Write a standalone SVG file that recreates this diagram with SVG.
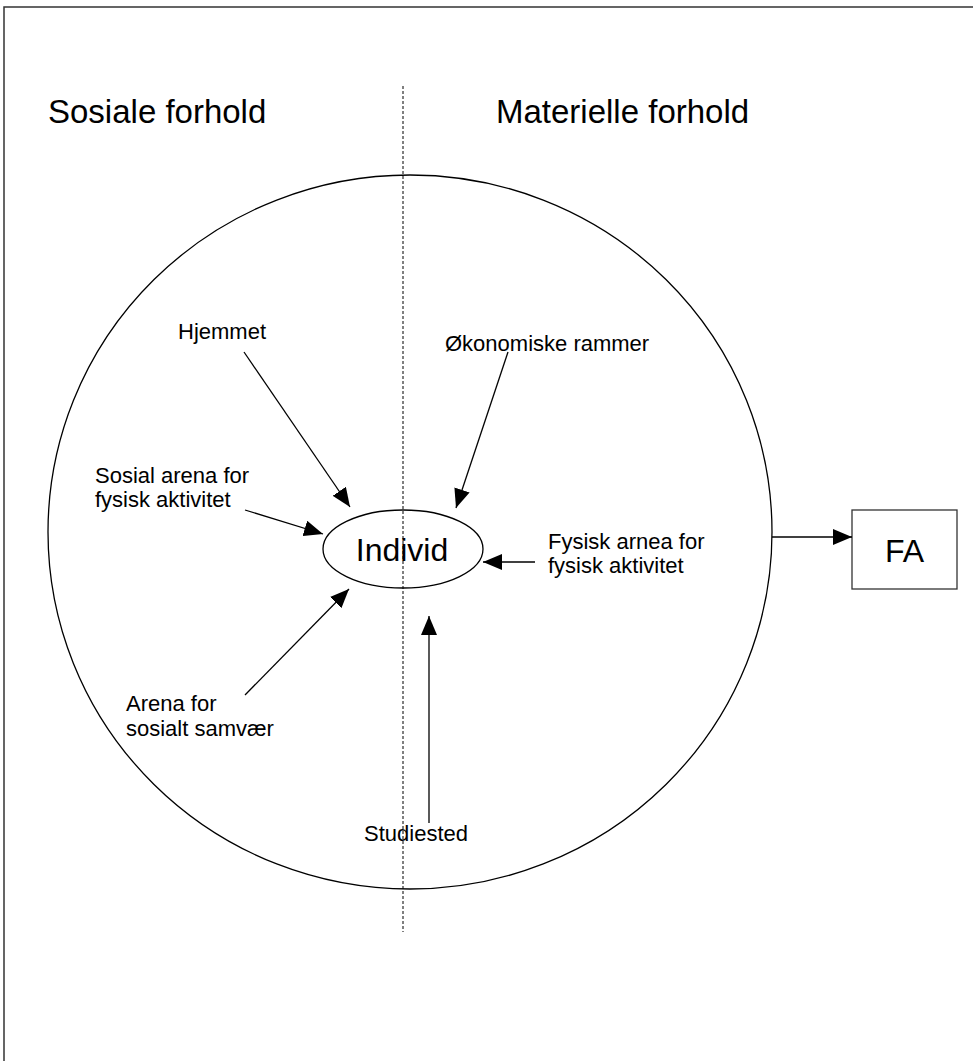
<svg xmlns="http://www.w3.org/2000/svg" width="973" height="1061" viewBox="0 0 973 1061">
  <style>
    .t { font-family: "Liberation Sans", Arial, sans-serif; fill: #000; }
    .lbl { font-size: 22px; }
    .head { font-size: 33px; }
    .big { font-size: 32px; }
    .ln { stroke: #000; stroke-width: 1.3; fill: none; }
  </style>
  <defs>
    <marker id="ah" markerUnits="userSpaceOnUse" markerWidth="20" markerHeight="16" refX="19" refY="8" orient="auto">
      <path d="M0,0 L19,8 L0,16 Z" fill="#000"/>
    </marker>
  </defs>
  <rect width="973" height="1061" fill="#fff"/>
  <path d="M4,1061 V7 H973" fill="none" stroke="#333" stroke-width="1.5"/>

  <g id="divider">
    <line x1="403" y1="86" x2="403" y2="932" stroke="#000" stroke-width="1" stroke-dasharray="3,2"/>
  </g>
  <g id="headings">
    <text class="t head" x="48" y="123">Sosiale forhold</text>
    <text class="t head" x="496" y="123">Materielle forhold</text>
  </g>
  <g id="circle">
    <ellipse cx="410" cy="532" rx="362" ry="357" class="ln"/>
  </g>
  <g id="individ">
    <ellipse cx="403" cy="549" rx="80" ry="39" class="ln"/>
    <text class="t big" x="402" y="561" text-anchor="middle">Individ</text>
  </g>
  <g id="fa">
    <rect x="852" y="510" width="105" height="79" fill="#fff" stroke="#333" stroke-width="1.3"/>
    <text class="t big" x="904.5" y="562" text-anchor="middle">FA</text>
  </g>
  <g id="hjemmet">
    <text class="t lbl" x="178" y="339">Hjemmet</text>
  </g>
  <g id="sosial-arena">
    <text class="t lbl" x="95" y="483">Sosial arena for</text>
    <text class="t lbl" x="95" y="507">fysisk aktivitet</text>
  </g>
  <g id="okonomiske">
    <text class="t lbl" x="445" y="351">Økonomiske rammer</text>
  </g>
  <g id="fysisk-arena">
    <text class="t lbl" x="548" y="549">Fysisk arnea for</text>
    <text class="t lbl" x="548" y="573">fysisk aktivitet</text>
  </g>
  <g id="arena-samvaer">
    <text class="t lbl" x="126" y="711">Arena for</text>
    <text class="t lbl" x="126" y="736">sosialt samvær</text>
  </g>
  <g id="studiested">
    <text class="t lbl" x="364" y="841">Studiested</text>
  </g>
  <g id="connectors" class="ln">
    <line x1="244" y1="352" x2="350" y2="507" marker-end="url(#ah)"/>
    <line x1="245" y1="510" x2="323" y2="534" marker-end="url(#ah)"/>
    <line x1="508" y1="352" x2="456" y2="508" marker-end="url(#ah)"/>
    <line x1="245" y1="695" x2="349" y2="589" marker-end="url(#ah)"/>
    <line x1="429" y1="823" x2="429" y2="616" marker-end="url(#ah)"/>
    <line x1="535" y1="562" x2="483" y2="562" marker-end="url(#ah)"/>
    <line x1="772" y1="537" x2="852" y2="537" marker-end="url(#ah)"/>
  </g>
</svg>
